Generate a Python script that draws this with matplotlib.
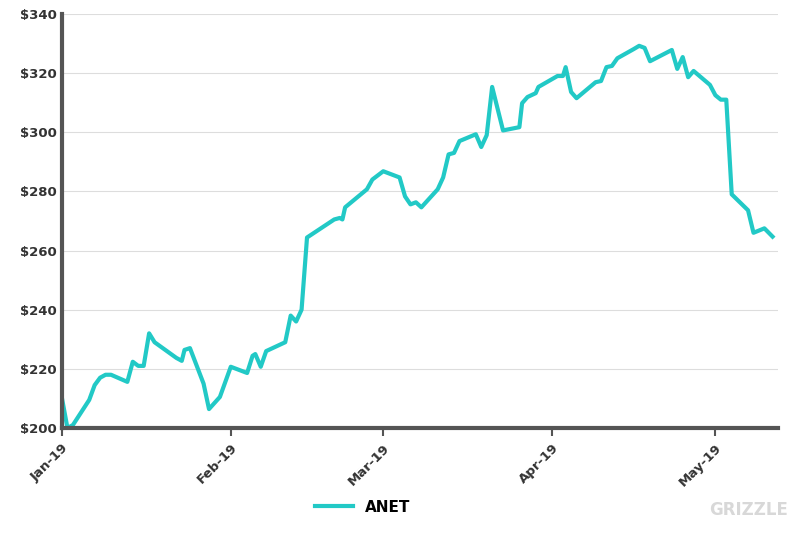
import matplotlib
matplotlib.use("Agg")
import matplotlib.pyplot as plt
import matplotlib.dates as mdates
import pandas as pd

day_offsets = [0,1,2,5,6,7,8,9,12,13,14,15,16,17,21,22,22.5,23.5,26,27,29,31,34,35,35.5,36.5,37.5,41,42,43,44,45,50,51,51.5,52,56,57,59,62,63,64,65,66,69,70,71,72,73,76,77,78,79,81,84,84.5,85.5,87,87.5,91,92,92.5,93.5,94.5,98,99,100,101,102,105,106,107,108,112,113,114,115,116,119,120,121,122,123,126,127,129,130.5]
prices = [210,200,201,209.5,214.5,217,218,218,215.6,222.4,221,221,232,229,223.7,222.7,226.4,227,215,206.4,210.5,220.7,218.6,224.4,225,220.7,226,229,238,236,240,264.4,270.5,271,270.5,274.6,280.7,284,286.8,284.7,278.3,275.6,276.3,274.6,280.7,284.7,292.5,293,297,299.3,295,299,315.3,300.6,301.7,309.8,311.9,313.2,315.3,319,319,322,313.6,311.5,316.9,317.3,322,322.4,325,328.1,329.2,328.5,324,327.8,321.4,325.4,318.6,320.7,316,312.5,311,311,279,273.6,266,267.5,264.7]
dates = [pd.Timestamp("2019-01-01") + pd.Timedelta(days=d) for d in day_offsets]
yticks = [200,220,240,260,280,300,320,340]

fig = plt.figure(figsize=(8,5.34), dpi=100)
ax = fig.add_axes([0.0775,0.1985,0.895,0.7755])
ax.plot(dates, prices, color="#22c9c6", lw=3, label="ANET")
ax.set_ylim(200,340)
ax.set_xlim(pd.Timestamp("2019-01-01"), pd.Timestamp("2019-01-01") + pd.Timedelta(days=131.5))
ax.set_yticks(yticks)
ax.set_yticklabels([f"${v}" for v in yticks], fontsize=9.5, fontweight="bold", color="#333333")
ax.xaxis.set_major_locator(mdates.MonthLocator())
ax.xaxis.set_major_formatter(mdates.DateFormatter("%b-%y"))
for lbl in ax.get_xticklabels():
    lbl.set_rotation(45); lbl.set_ha("right"); lbl.set_fontsize(9.5); lbl.set_fontweight("bold"); lbl.set_color("#333333"); lbl.set_rotation_mode("anchor")
ax.grid(axis="y", color="#dddddd", lw=0.8)
ax.set_axisbelow(True)
for s in ["top","right"]:
    ax.spines[s].set_visible(False)
for s in ["left","bottom"]:
    ax.spines[s].set_color("#555555"); ax.spines[s].set_linewidth(3)
ax.tick_params(axis="y", length=0, pad=4)
ax.tick_params(axis="x", length=6, width=1.5, color="#555555")
ax.legend(loc="upper center", bbox_to_anchor=(0.42,-0.14), frameon=False, prop={"weight":"bold","size":11}, handlelength=2.5)
fig.text(0.985,0.035,"GRIZZLE", color="#d8d8d8", fontsize=12, fontweight="bold", ha="right")
fig.savefig("out.png", dpi=100)
